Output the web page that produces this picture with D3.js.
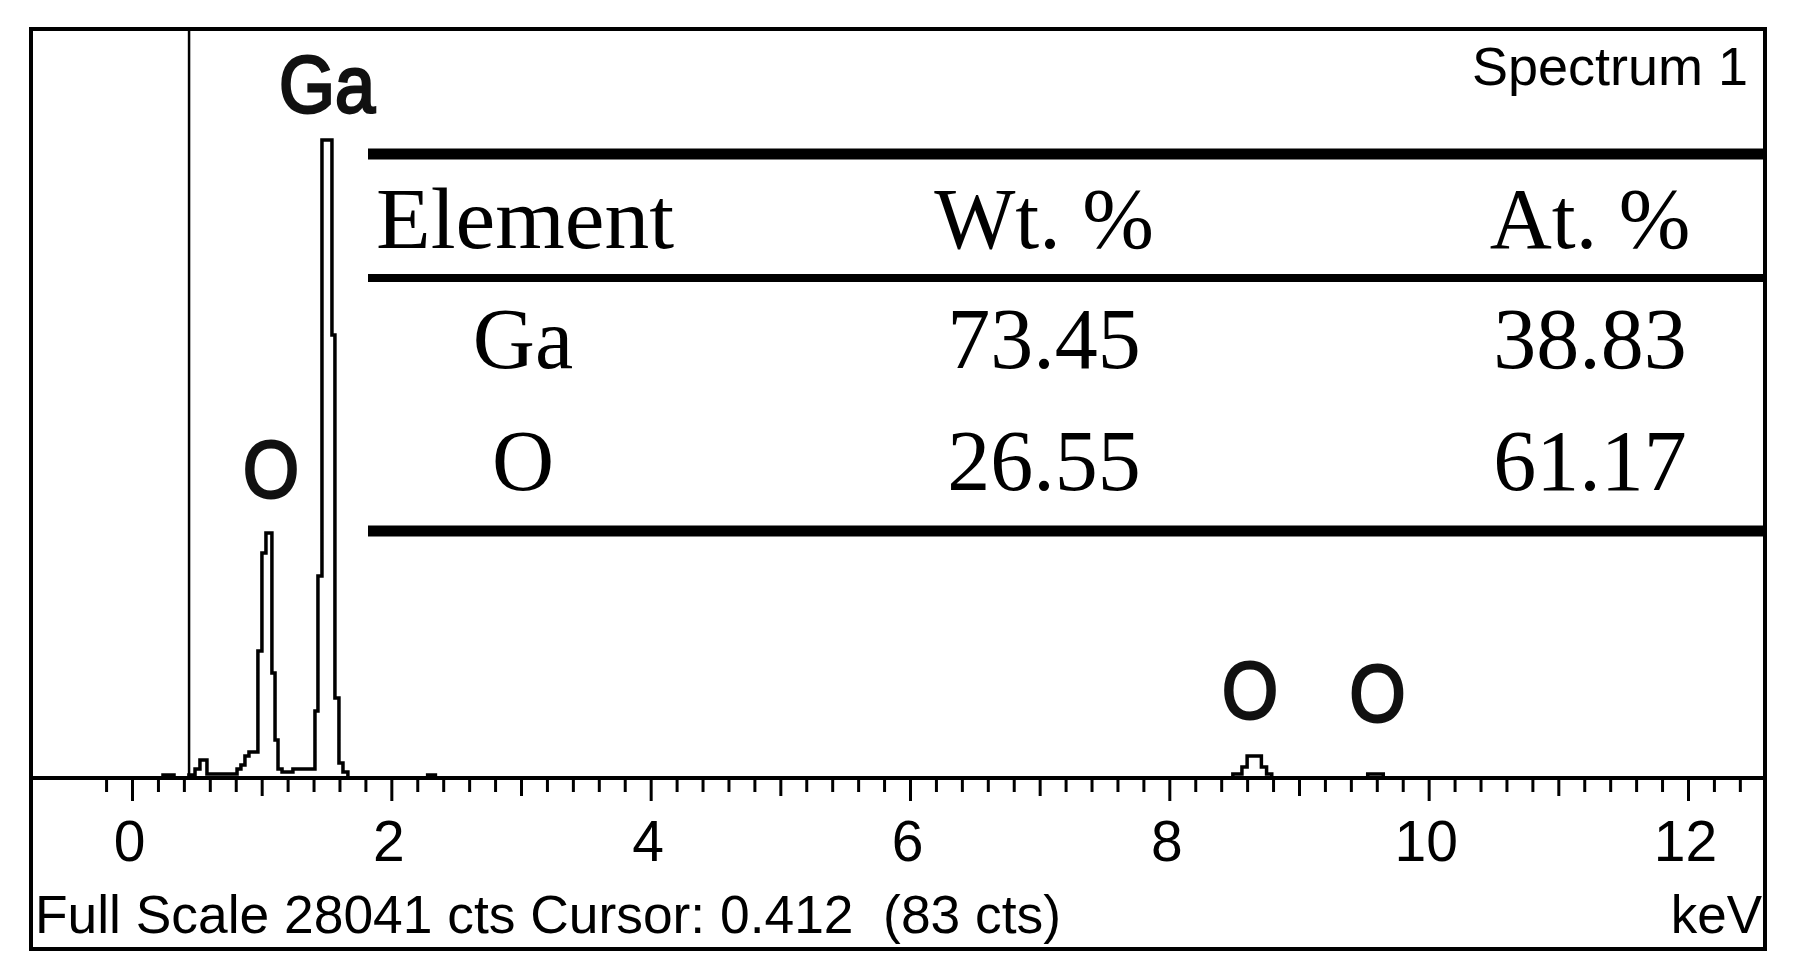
<!DOCTYPE html>
<html>
<head>
<meta charset="utf-8">
<script src="https://cdn.jsdelivr.net/npm/d3@7/dist/d3.min.js"></script>
<style>
  html, body { margin: 0; padding: 0; background: #fff; }
  svg { display: block; }
</style>
</head>
<body>
<svg id="chart" width="1794" height="978"></svg>
<script>
// ---------------- DATA ----------------
// Spectrum channels: left edge energy (keV) and counts (step histogram)
const energyKeV = [0.00, 0.239, 0.324, 0.439, 0.486, 0.524, 0.578, 0.810, 0.840, 0.871, 0.902,
                   0.971, 1.002, 1.033, 1.079, 1.103, 1.126, 1.157, 1.241, 1.411, 1.434, 1.465,
                   1.542, 1.565, 1.596, 1.627, 1.665, 2.28, 2.34, 8.49, 8.56, 8.60, 8.71, 8.75,
                   8.79, 9.53, 9.65, 12.594];
const counts    = [0, 112, 0, 112, 337, 674, 150, 337, 487, 824, 973,
                   4755, 8424, 9173, 3931, 1423, 337, 225, 337, 2508, 7563, 23887,
                   16586, 2995, 562, 225, 0, 112, 0, 150, 412, 824, 412, 150,
                   0, 150, 0, 0];
const fullScaleCts = 28041;
const cursorKeV = 0.44;
const cursorText = "Full Scale 28041 cts Cursor: 0.412  (83 cts)";
const unitText = "keV";
const spectrumTitle = "Spectrum 1";

// Peak labels
const peakLabels = ["Ga", "O", "O", "O"];
const peakLabelKeV = [1.504, 1.072, 8.622, 9.605];
const peakLabelCts = [24934, 10520, 2246, 2134];

// Axis ticks
const majorTicks = [0, 2, 4, 6, 8, 10, 12];
const mediumTicks = [1, 3, 5, 7, 9, 11];

// Table
const tableHeaders = ["Element", "Wt. %", "At. %"];
const elements = ["Ga", "O"];
const wtPct = ["73.45", "26.55"];
const atPct = ["38.83", "61.17"];

// ---------------- LAYOUT ----------------
const svg = d3.select("#chart");
const frame = { left: 31, top: 29, right: 1765, bottom: 949 };
const baselineY = 778;

const x = d3.scaleLinear().domain([-0.779, 12.594]).range([frame.left, frame.right]);
const y = d3.scaleLinear().domain([0, fullScaleCts]).range([baselineY, frame.top]);

// Frame
svg.append("rect")
  .attr("x", frame.left).attr("y", frame.top)
  .attr("width", frame.right - frame.left).attr("height", frame.bottom - frame.top)
  .attr("fill", "#fff").attr("stroke", "#000").attr("stroke-width", 4);

// Cursor line
svg.append("line")
  .attr("x1", x(cursorKeV)).attr("x2", x(cursorKeV))
  .attr("y1", frame.top).attr("y2", baselineY)
  .attr("stroke", "#000").attr("stroke-width", 2.5);

// Ticks
const minorTicks = d3.range(-1, 63).map(i => +(i * 0.2).toFixed(1))
  .filter(v => Math.abs(v - Math.round(v)) > 1e-6);

const axisG = svg.append("g").attr("transform", `translate(0,${baselineY})`);
axisG.append("g")
  .call(d3.axisBottom(x).tickValues(minorTicks).tickSize(14).tickSizeOuter(0).tickFormat(""))
  .call(g => g.select(".domain").remove());
axisG.append("g")
  .call(d3.axisBottom(x).tickValues(mediumTicks).tickSize(18).tickSizeOuter(0).tickFormat(""))
  .call(g => g.select(".domain").remove());
const majorAxis = axisG.append("g")
  .call(d3.axisBottom(x).tickValues(majorTicks).tickSize(23).tickSizeOuter(0).tickPadding(20).tickFormat(d3.format("d")))
  .call(g => g.select(".domain").remove());
axisG.selectAll(".tick line").attr("stroke", "#000").attr("stroke-width", 3);
majorAxis.selectAll("text")
  .attr("fill", "#000")
  .attr("dx", "-3")
  .style("font-family", "'Liberation Sans', Arial, sans-serif")
  .style("font-size", "57px");

// Spectrum line
const pts = energyKeV.map((e, i) => [e, counts[i]]);
const line = d3.line().x(d => x(d[0])).y(d => y(d[1])).curve(d3.curveStepAfter);
svg.append("path")
  .datum(pts)
  .attr("d", line)
  .attr("fill", "none")
  .attr("stroke", "#000")
  .attr("stroke-width", 3.5)
  .attr("stroke-linejoin", "miter");

// Baseline
svg.append("line")
  .attr("x1", frame.left).attr("x2", frame.right)
  .attr("y1", baselineY).attr("y2", baselineY)
  .attr("stroke", "#000").attr("stroke-width", 4);

// Peak labels (regular weight, thickened, slightly condensed)
svg.append("g").selectAll("text")
  .data(peakLabels)
  .join("text")
  .attr("transform", (d, i) => `translate(${x(peakLabelKeV[i])},${y(peakLabelCts[i])}) scale(0.9,1)`)
  .attr("text-anchor", "middle")
  .style("font-family", "'Liberation Sans', Arial, sans-serif")
  .style("font-size", "80px")
  .attr("fill", "#111")
  .attr("stroke", "#111")
  .attr("stroke-width", 2.8)
  .text(d => d);

// Title
svg.append("text")
  .attr("x", 1748).attr("y", 85)
  .attr("text-anchor", "end")
  .style("font-family", "'Liberation Sans', Arial, sans-serif")
  .style("font-size", "54px")
  .text(spectrumTitle);

// Bottom texts
svg.append("text")
  .attr("x", 35).attr("y", 933)
  .attr("textLength", 1026).attr("lengthAdjust", "spacingAndGlyphs")
  .style("font-family", "'Liberation Sans', Arial, sans-serif")
  .style("font-size", "53px")
  .style("white-space", "pre")
  .attr("xml:space", "preserve")
  .text(cursorText);
svg.append("text")
  .attr("x", 1762).attr("y", 933)
  .attr("text-anchor", "end")
  .style("font-family", "'Liberation Sans', Arial, sans-serif")
  .style("font-size", "53px")
  .text(unitText);

// Table
const tbl = { left: 368, right: 1765 };
const ruleYs = [154, 278, 531];
const ruleW = [11, 8, 11];
svg.append("g").selectAll("rect")
  .data(ruleYs)
  .join("rect")
  .attr("x", tbl.left).attr("width", tbl.right - tbl.left)
  .attr("y", (d, i) => d - ruleW[i] / 2).attr("height", (d, i) => ruleW[i])
  .attr("fill", "#000");

const colX = [523, 1044, 1590];
const tFont = "'Liberation Serif', 'Times New Roman', serif";
const tSize = "86px";
svg.append("text").attr("x", 376).attr("y", 248)
  .attr("textLength", 298).attr("lengthAdjust", "spacingAndGlyphs")
  .style("font-family", tFont).style("font-size", tSize).text(tableHeaders[0]);
[1, 2].forEach(c => {
  svg.append("text").attr("x", colX[c]).attr("y", 248).attr("text-anchor", "middle")
    .style("font-family", tFont).style("font-size", tSize).text(tableHeaders[c]);
});
const rowY = [368, 490];
elements.forEach((el, r) => {
  [el, wtPct[r], atPct[r]].forEach((v, c) => {
    svg.append("text").attr("x", colX[c]).attr("y", rowY[r]).attr("text-anchor", "middle")
      .style("font-family", tFont).style("font-size", tSize).text(v);
  });
});
</script>
</body>
</html>
